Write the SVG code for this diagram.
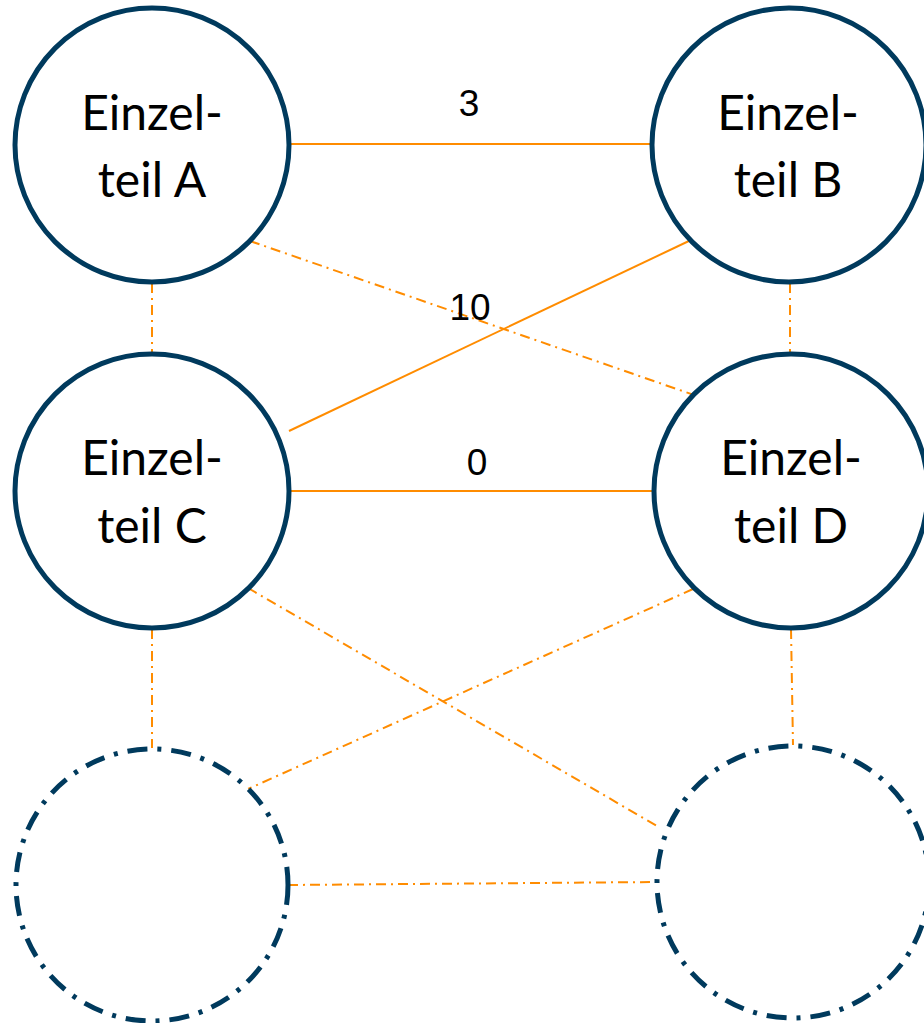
<svg xmlns="http://www.w3.org/2000/svg" width="924" height="1023" viewBox="0 0 924 1023">
<style>
.node{fill:#fff;stroke:#003a5d;stroke-width:5}
.ghost{fill:#fff;stroke:#003a5d;stroke-width:5;stroke-dasharray:20 10 4 10}
.lbl{font-family:Lato,"Open Sans",sans-serif;font-size:48px;fill:#000;text-anchor:middle}
.num{font-family:"Liberation Sans",Arial,sans-serif;font-size:37px;fill:#000;text-anchor:middle}
.solid{stroke:#ff8c00;stroke-width:2;fill:none}
.dd{stroke:#ff8c00;stroke-width:2;fill:none;stroke-dasharray:10 5 2 5}
</style>
<rect width="924" height="1023" fill="#fff"/>
<g id="connectors">
<line class="solid" x1="290" y1="144" x2="652" y2="144"/>
<line class="solid" x1="289" y1="431" x2="691" y2="240"/>
<line class="dd" x1="250" y1="241" x2="694" y2="395"/>
<line class="dd" x1="152" y1="283" x2="152" y2="353"/>
<line class="dd" x1="790" y1="283" x2="790" y2="353"/>
<line class="solid" x1="290" y1="491" x2="654" y2="491"/>
<line class="dd" x1="152" y1="629" x2="152" y2="748"/>
<line class="dd" x1="791" y1="629" x2="793" y2="745"/>
<line class="dd" x1="248" y1="588" x2="657" y2="826"/>
<line class="dd" x1="693" y1="589" x2="248" y2="789"/>
<line class="dd" x1="288" y1="885" x2="657" y2="882"/>
<text class="num" x="469" y="116">3</text>
<text class="num" x="470" y="320">10</text>
<text class="num" x="477" y="475">0</text>
</g>
<g id="nodeA">
<circle class="node" cx="152" cy="145" r="137"/>
<text class="lbl" x="152" y="130">Einzel-</text>
<text class="lbl" x="152" y="197">teil A</text>
</g>
<g id="nodeB">
<circle class="node" cx="789" cy="145" r="137"/>
<text class="lbl" x="788" y="130">Einzel-</text>
<text class="lbl" x="788" y="197">teil B</text>
</g>
<g id="nodeC">
<circle class="node" cx="152" cy="491" r="137"/>
<text class="lbl" x="152" y="475">Einzel-</text>
<text class="lbl" x="152" y="543">teil C</text>
</g>
<g id="nodeD">
<circle class="node" cx="791" cy="491" r="137"/>
<text class="lbl" x="791" y="475">Einzel-</text>
<text class="lbl" x="791" y="543">teil D</text>
</g>
<g id="nodeE">
<circle class="ghost" cx="152" cy="885" r="136"/>
</g>
<g id="nodeF">
<circle class="ghost" cx="793" cy="882" r="136"/>
</g>
</svg>
